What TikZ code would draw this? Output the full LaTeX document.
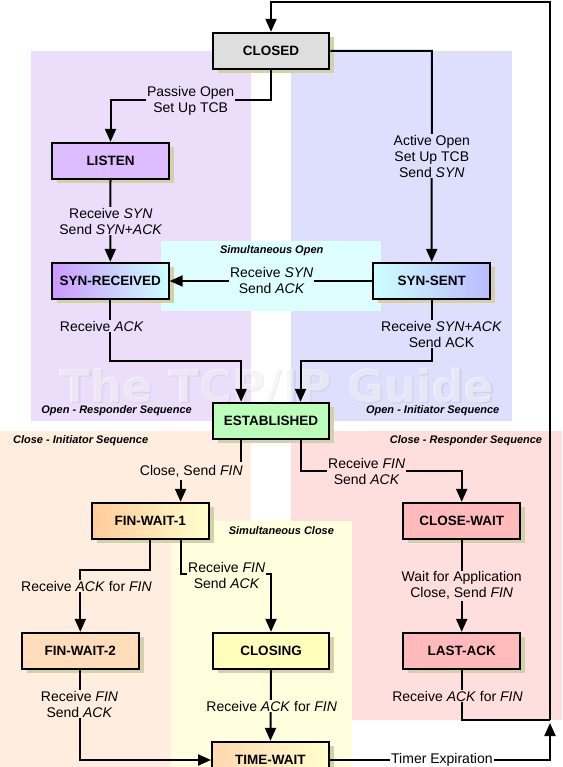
\documentclass[tikz,border=0pt]{standalone}
\usepackage{fontspec}
\setmainfont{Liberation Sans}
\newfontfamily\wmfont{DejaVu Sans}
\usetikzlibrary{arrows.meta,shadows}
\definecolor{rgpurple}{HTML}{ECDEFB}
\definecolor{rgblue}{HTML}{DEDFFC}
\definecolor{rgcyan}{HTML}{DDFFFF}
\definecolor{rgpeach}{HTML}{FFEEDF}
\definecolor{rgpink}{HTML}{FFDEDE}
\definecolor{rgyellow}{HTML}{FFFFDD}
\definecolor{shadowc}{HTML}{D4D0A8}
\definecolor{cclosed}{HTML}{DEDEDE}
\definecolor{clisten}{HTML}{DDBCFF}
\definecolor{cpurp}{HTML}{CC99FF}
\definecolor{ccyan}{HTML}{CCFFFF}
\definecolor{cblue}{HTML}{BBBBFF}
\definecolor{cgreen}{HTML}{BBFFBB}
\definecolor{corange}{HTML}{FFCC99}
\definecolor{clyellow}{HTML}{FFFFCC}
\definecolor{cpink}{HTML}{FFBBBB}
\definecolor{cpeach}{HTML}{FFDDBB}
\definecolor{cyel}{HTML}{FFFFBB}
\definecolor{ctw}{HTML}{FFD8B0}
\tikzset{
  statebox/.style={draw=black, line width=2pt, minimum width=116.7pt, minimum height=36.3pt,
    inner sep=0pt, font=\fontsize{13.5}{15}\selectfont\bfseries,
    drop shadow={shadow xshift=5pt, shadow yshift=-4pt, fill=shadowc, opacity=1}},
  conn/.style={draw=black, line width=2pt, -{Triangle[length=13pt,width=11pt]}},
  plainline/.style={draw=black, line width=2pt},
  lab/.style={font=\fontsize{14}{16}\selectfont, align=center, inner sep=1pt},
  grouplab/.style={font=\fontsize{11}{13}\selectfont\bfseries\itshape, inner sep=0pt},
}
\begin{document}
\begin{tikzpicture}[x=1pt,y=-1pt]
\useasboundingbox (0,0) rectangle (562,767);
\fill[white] (0,0) rectangle (562,767);
% regions
\fill[rgpurple] (30.6,51) rectangle (250.8,420.7);
\fill[rgblue] (290.8,51) rectangle (511.7,420.7);
\fill[rgcyan] (160.8,241) rectangle (380.7,310.7);
\fill[rgpeach] (0,431) rectangle (250.8,767);
\fill[rgpink] (290.8,431) rectangle (562,720);
\fill[rgyellow] (171.3,521) rectangle (352,767);
% watermark
\node[font=\wmfont\bfseries\fontsize{45}{50}\selectfont, text=black, opacity=0.07, anchor=base, inner sep=0pt] (wm2) at (278.5,403.5) {The TCP/IP Guide};
\node[font=\wmfont\bfseries\fontsize{45}{50}\selectfont, text=white, opacity=0.5, anchor=base, inner sep=0pt] (wm) at (277,402) {The TCP/IP Guide};
% group labels
\node[grouplab] (gso) at (271.7,251) {Simultaneous Open};
\node[grouplab] (gor) at (116.6,411) {Open - Responder Sequence};
\node[grouplab] (goi) at (432.7,411) {Open - Initiator Sequence};
\node[grouplab] (gci) at (80.6,441) {Close - Initiator Sequence};
\node[grouplab] (gcr) at (466,441) {Close - Responder Sequence};
\node[grouplab] (gsc) at (281.4,531) {Simultaneous Close};
% states
\node[statebox, fill=cclosed] (CL) at (271,51) {CLOSED};
\node[statebox, fill=clisten] (LI) at (110.5,161) {LISTEN};
\node[statebox, left color=cpurp, right color=ccyan] (SR) at (110.3,281) {SYN-RECEIVED};
\node[statebox, left color=ccyan, right color=cblue] (SS) at (431.7,281) {SYN-SENT};
\node[statebox, fill=cgreen] (ES) at (271,421) {ESTABLISHED};
\node[statebox, left color=corange, right color=clyellow] (FW1) at (150.3,521) {FIN-WAIT-1};
\node[statebox, fill=cpink] (CW) at (461.7,521) {CLOSE-WAIT};
\node[statebox, fill=cpeach] (FW2) at (80.3,651) {FIN-WAIT-2};
\node[statebox, fill=cyel] (CG) at (271,651) {CLOSING};
\node[statebox, fill=cpink] (LA) at (461.7,651) {LAST-ACK};
\node[statebox, left color=ctw, right color=clyellow] (TW) at (270.4,760) {TIME-WAIT};
% helper coordinates
\coordinate (RT) at (550,2);
\coordinate (J) at (550,720);
\coordinate (UP) at (550,723);
\coordinate (p1) at (110.5,100);
\coordinate (p2) at (431.8,51);
\coordinate (a1) at (300.5,361);
\coordinate (a2) at (241.1,361);
\coordinate (b1) at (241.1,466);
\coordinate (b2) at (180.6,466);
\coordinate (b3) at (300.5,470.7);
\coordinate (c1) at (150.3,570);
\coordinate (c2) at (180.6,574.3);
% connectors
\draw[conn] (CL.south) |- (p1) -- (LI.north);
\draw[conn] (CL.east) -- (p2) -- (SS.north);
\draw[conn] (LI.south) -- (SR.north);
\draw[conn] (SS.west) -- (SR.east);
\draw[conn] (SR.south) |- (a2) -- (a2 |- ES.north);
\draw[conn] (SS.south) |- (a1) -- (a1 |- ES.north);
\draw[conn] (b1 |- ES.south) -- (b1) -- (b2) -- (b2 |- FW1.north);
\draw[conn] (b3 |- ES.south) -- (b3) -| (CW.north);
\draw[conn] (FW1.south) -- (c1) -| (FW2.north);
\draw[conn] (c2 |- FW1.south) -- (c2) -| (CG.north);
\draw[conn] (CW.south) -- (LA.north);
\draw[conn] (FW2.south) |- (TW.west);
\draw[conn] (CG.south) -- (TW.north);
\draw[conn] (TW.east) -| (UP);
\draw[plainline] (LA.south) |- (J);
\draw[conn] (J) -- (RT) -| (CL.north);
% connector labels
\node[lab, fill=rgpurple] (l1) at (190.7,101) {Passive Open\\Set Up TCB};
\node[lab, fill=rgblue] (l2) at (431.8,156) {Active Open\\Set Up TCB\\Send \textit{SYN}};
\node[lab, fill=rgpurple] (l3) at (110.8,221) {Receive \textit{SYN}\\Send \textit{SYN+ACK}};
\node[lab, fill=rgcyan] (l4) at (271.7,280.7) {Receive \textit{SYN}\\Send \textit{ACK}};
\node[lab, fill=rgpurple] (l5) at (101.8,326) {Receive \textit{ACK}};
\node[lab, fill=rgblue] (l6) at (441.5,334) {Receive \textit{SYN+ACK}\\Send ACK};
\node[lab, fill=rgpeach, inner ysep=3pt] (l7) at (191.3,471) {Close, Send \textit{FIN}};
\node[lab, fill=rgpink] (l8) at (366.7,471) {Receive \textit{FIN}\\Send \textit{ACK}};
\node[lab, fill=rgpeach] (l9) at (86.4,586) {Receive \textit{ACK} for \textit{FIN}};
\node[lab, fill=rgyellow] (l10) at (226.7,575) {Receive \textit{FIN}\\Send \textit{ACK}};
\node[lab, fill=rgpink] (l11) at (461.7,585.7) {Wait for Application\\Close, Send \textit{FIN}};
\node[lab, fill=rgpeach] (l12) at (79.5,704.3) {Receive \textit{FIN}\\Send \textit{ACK}};
\node[lab, fill=rgyellow] (l13) at (271.7,706) {Receive \textit{ACK} for \textit{FIN}};
\node[lab, fill=rgpink] (l14) at (457.5,696.3) {Receive \textit{ACK} for \textit{FIN}};
\node[lab, fill=white] (l15) at (441.9,760) {Timer Expiration};
\end{tikzpicture}
\end{document}
